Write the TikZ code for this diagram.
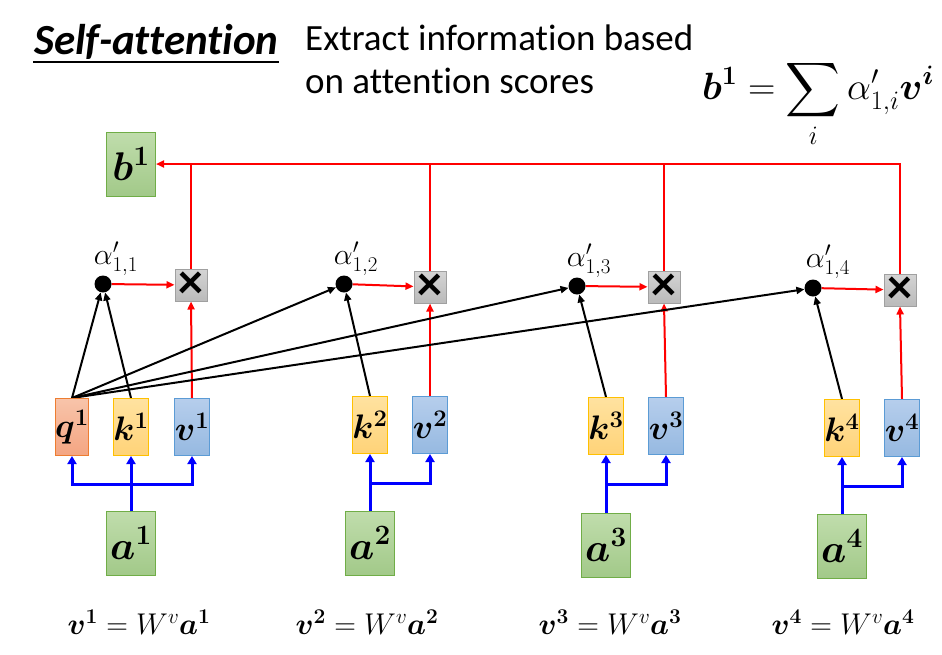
\RequirePackage{fix-cm}
\documentclass[tikz,border=0pt]{standalone}
\usepackage{amsmath}
\usepackage{exscale}
\usepackage{bm}
\usepackage{fontspec}
\setmainfont{Carlito}[Ligatures=NoCommon]
\usepackage{tikz}
\usetikzlibrary{arrows.meta}
\pgfdeclarelayer{background}
\pgfdeclarelayer{foreground}
\pgfsetlayers{background,main,foreground}
\DeclareFontShape{OMX}{cmex}{m}{n}{<->cmex10}{}

\definecolor{qtop}{RGB}{248,196,170}
\definecolor{qbot}{RGB}{244,165,130}
\definecolor{qline}{RGB}{237,125,49}
\definecolor{ktop}{RGB}{255,226,160}
\definecolor{kbot}{RGB}{255,211,120}
\definecolor{kline}{RGB}{255,192,0}
\definecolor{vtop}{RGB}{182,206,236}
\definecolor{vbot}{RGB}{150,185,225}
\definecolor{vline}{RGB}{91,155,213}
\definecolor{atop}{RGB}{192,221,172}
\definecolor{abot}{RGB}{162,201,137}
\definecolor{aline}{RGB}{112,173,71}
\definecolor{xtop}{RGB}{212,212,212}
\definecolor{xbot}{RGB}{186,186,186}
\definecolor{xline}{RGB}{160,160,160}

\tikzset{
  vecbox/.style={minimum width=31pt, minimum height=57pt, inner sep=0pt, line width=1pt,
    font=\fontsize{34}{36}\selectfont},
  qbox/.style={vecbox, draw=qline, top color=qtop, bottom color=qbot},
  kbox/.style={vecbox, draw=kline, top color=ktop, bottom color=kbot},
  vbox/.style={vecbox, draw=vline, top color=vtop, bottom color=vbot},
  abox/.style={minimum width=49pt, minimum height=64pt, inner sep=0pt, line width=1pt,
    draw=aline, top color=atop, bottom color=abot, font=\fontsize{40}{42}\selectfont},
  xbox/.style={minimum width=32pt, minimum height=32pt, inner sep=0pt, line width=1pt,
    draw=xline, top color=xtop, bottom color=xbot, font=\fontsize{50}{50}\selectfont\bfseries},
  dot/.style={circle, fill=black, minimum size=17pt, inner sep=0pt},
  score/.style={font=\fontsize{30}{32}\selectfont},
  eqn/.style={font=\fontsize{30}{32}\selectfont},
  redarr/.style={red, line width=2pt, -{Triangle[length=8pt,width=7pt]}},
  redline/.style={red, line width=2pt},
  bluearr/.style={blue, line width=3pt, -{Triangle[length=8pt,width=9pt]}},
  bluelink/.style={blue, line width=3pt},
  blackarr/.style={black, line width=2pt, -{Triangle[length=8pt,width=7pt]}}
}

\begin{document}
\begin{tikzpicture}[x=1pt,y=-1pt]
\useasboundingbox (0,0) rectangle (942,654);

% heading
\node[anchor=west, inner sep=0pt, font=\fontsize{43}{46}\selectfont\bfseries\itshape] (title) at (34,42) {Self-attention};
\draw[line width=1.2pt] (33,62) -- (title.east |- 0,62);
\node[anchor=north west, inner sep=0pt, align=left, font=\fontsize{37}{43}\selectfont] (note) at (305,25) {Extract information based\\on attention scores};
\node[inner sep=0pt, font=\fontsize{38}{42}\selectfont] (sum) at (818,104) {$\displaystyle \bm{b}^{\bm 1}=\sum_i \alpha'_{1,i}\bm{v}^{\bm i}$};

% output
\node[abox] (b1) at (131,164) {$\bm{b}^{\bm 1}$};

% scores and products
\node[dot] (d1) at (103,284) {};
\node[dot] (d2) at (344,284) {};
\node[dot] (d3) at (577,286) {};
\node[dot] (d4) at (813,288) {};
\node[score] (s1) at (116,259) {$\alpha'_{1,1}$};
\node[score] (s2) at (356,259) {$\alpha'_{1,2}$};
\node[score] (s3) at (589,261) {$\alpha'_{1,3}$};
\node[score] (s4) at (828,262) {$\alpha'_{1,4}$};
\node[xbox] (x1) at (191,285) {×};
\node[xbox] (x2) at (430,287) {×};
\node[xbox] (x3) at (664,287) {×};
\node[xbox] (x4) at (900,290) {×};

% query, keys, values
\node[qbox] (q1) at (72,427) {$\bm{q}^{\bm 1}$};
\node[kbox] (k1) at (131,427) {$\bm{k}^{\bm 1}$};
\node[vbox] (v1) at (192,427) {$\bm{v}^{\bm 1}$};
\node[kbox] (k2) at (370,425) {$\bm{k}^{\bm 2}$};
\node[vbox] (v2) at (430,425) {$\bm{v}^{\bm 2}$};
\node[kbox] (k3) at (606,426) {$\bm{k}^{\bm 3}$};
\node[vbox] (v3) at (666,426) {$\bm{v}^{\bm 3}$};
\node[kbox] (k4) at (842,428) {$\bm{k}^{\bm 4}$};
\node[vbox] (v4) at (902,428) {$\bm{v}^{\bm 4}$};

% inputs
\node[abox] (a1) at (131,543) {$\bm{a}^{\bm 1}$};
\node[abox] (a2) at (370,543) {$\bm{a}^{\bm 2}$};
\node[abox] (a3) at (606,545) {$\bm{a}^{\bm 3}$};
\node[abox] (a4) at (842,546) {$\bm{a}^{\bm 4}$};
\coordinate (j1) at (131,484);
\coordinate (j2) at (370,483);
\coordinate (j3) at (606,484);
\coordinate (j4) at (842,486);

% equations
\node[eqn] (e1) at (139,622) {$\bm{v}^{\bm 1}=W^v\bm{a}^{\bm 1}$};
\node[eqn] (e2) at (367,622) {$\bm{v}^{\bm 2}=W^v\bm{a}^{\bm 2}$};
\node[eqn] (e3) at (610,622) {$\bm{v}^{\bm 3}=W^v\bm{a}^{\bm 3}$};
\node[eqn] (e4) at (843,622) {$\bm{v}^{\bm 4}=W^v\bm{a}^{\bm 4}$};

\begin{pgfonlayer}{background}
% weighted sum
\draw[redarr] (x4.north) |- (b1.east);
\draw[redline] (x1.north) -- (x1.north |- b1.east);
\draw[redline] (x2.north) -- (x2.north |- b1.east);
\draw[redline] (x3.north) -- (x3.north |- b1.east);
\draw[redarr] (d1) -- (x1);
\draw[redarr] (d2) -- (x2);
\draw[redarr] (d3) -- (x3);
\draw[redarr] (d4) -- (x4);
\draw[redarr] (v1.north) -- (x1.south);
\draw[redarr] (v2.north) -- (x2.south);
\draw[redarr] (v3.north) -- (x3.south);
\draw[redarr] (v4.north) -- (x4.south);
% attention
\draw[blackarr] (q1.north) -- (d1);
\draw[blackarr] (q1.north) -- (d2);
\draw[blackarr] (q1.north) -- (d3);
\draw[blackarr] (q1.north) -- (d4);
\draw[blackarr] (k1.north) -- (d1);
\draw[blackarr] (k2.north) -- (d2);
\draw[blackarr] (k3.north) -- (d3);
\draw[blackarr] (k4.north) -- (d4);
% projections
\draw[bluelink] (a1.north) -- (j1);
\draw[bluearr] (j1) -- (k1.south);
\draw[bluearr] (j1) -| (q1.south);
\draw[bluearr] (j1) -| (v1.south);
\draw[bluearr] (a2.north) -- (k2.south);
\draw[bluearr] (j2) -| (v2.south);
\draw[bluearr] (a3.north) -- (k3.south);
\draw[bluearr] (j3) -| (v3.south);
\draw[bluearr] (a4.north) -- (k4.south);
\draw[bluearr] (j4) -| (v4.south);
\end{pgfonlayer}
\end{tikzpicture}
\end{document}
